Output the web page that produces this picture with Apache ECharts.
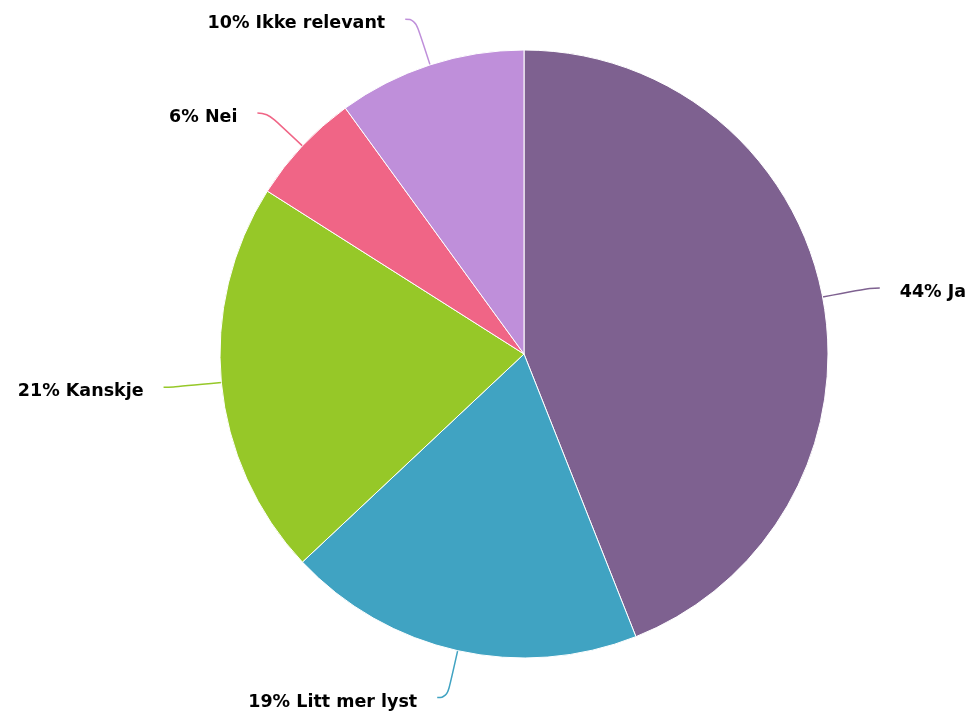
<!DOCTYPE html>
<html>
<head>
<meta charset="utf-8">
<script src="https://cdn.jsdelivr.net/npm/echarts@6/dist/echarts.min.js"></script>
<style>
html,body{margin:0;padding:0;background:#fff;}
#chart{width:975px;height:715px;}
</style>
</head>
<body>
<div id="chart"></div>
<script>
const categories = ["Ja", "Litt mer lyst", "Kanskje", "Nei", "Ikke relevant"];
const values = [44, 19, 21, 6, 10];
const colors = ["#7e6190", "#40a3c2", "#96c828", "#f06586", "#bf8fda"];

const chart = echarts.init(document.getElementById('chart'), null, {renderer: 'canvas'});
const data = categories.map((c, i) => ({
  name: c,
  value: values[i],
  itemStyle: {color: colors[i]},
  labelLine: {lineStyle: {color: colors[i]}}
}));
chart.setOption({
  animation: false,
  series: [{
    type: 'pie',
    center: [524, 354],
    radius: [0, 304],
    startAngle: 90,
    clockwise: true,
    avoidLabelOverlap: false,
    data: data,
    itemStyle: {borderColor: '#ffffff', borderWidth: 1},
    label: {
      show: true,
      position: 'outside',
      formatter: p => '{t|' + p.value + '% ' + p.name + '}',
      rich: {
        t: {
          fontFamily: 'DejaVu Sans',
          fontWeight: 'bold',
          fontSize: 17.5,
          color: '#000',
          padding: [9, 0, 0, 0]
        }
      },
      distanceToLabelLine: 20
    },
    labelLine: {
      show: true,
      length: 48,
      length2: 10,
      smooth: 0.5,
      lineStyle: {width: 1.5}
    },
    emphasis: {disabled: true}
  }]
});
</script>
</body>
</html>
